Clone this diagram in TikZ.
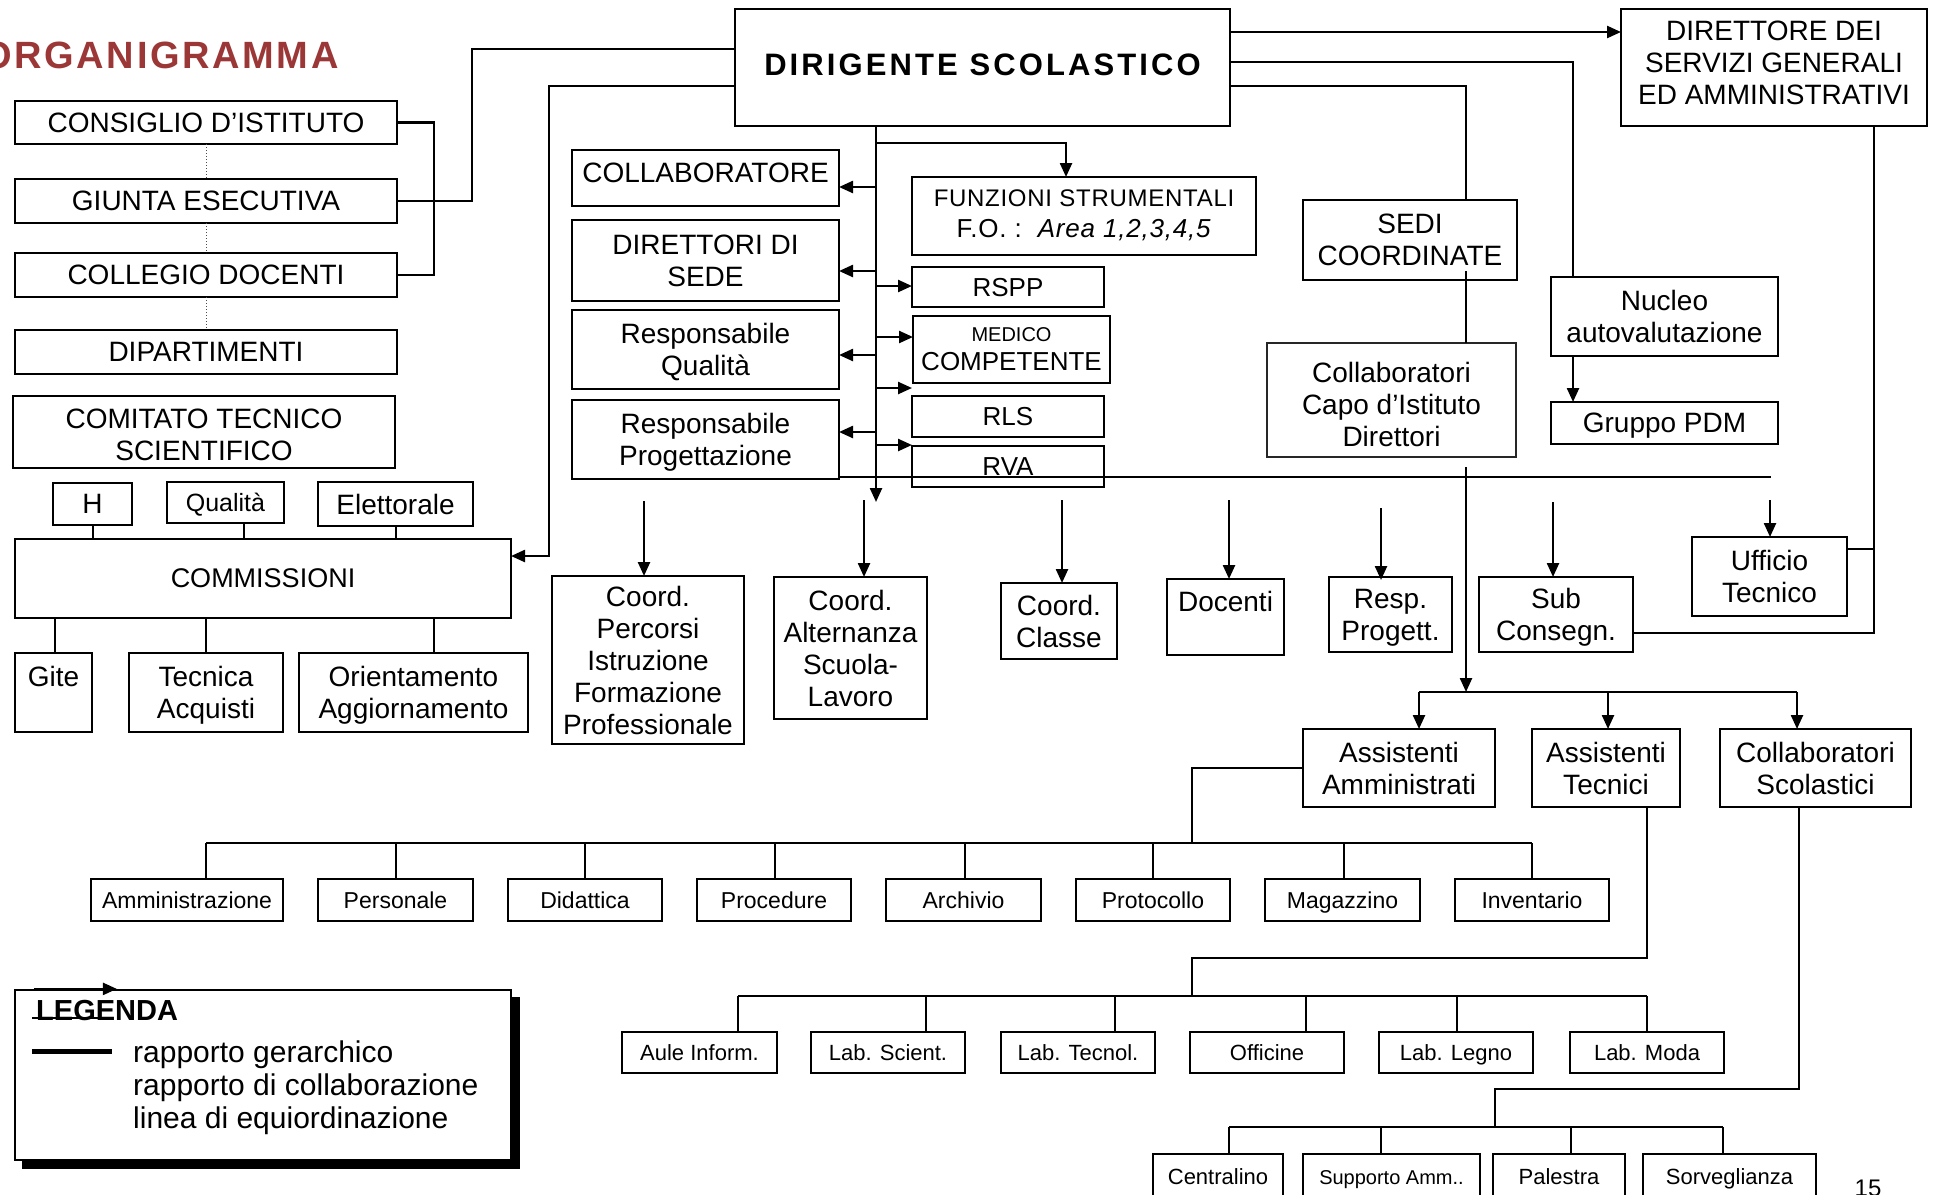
\documentclass[tikz,border=0pt]{standalone}
\usepackage{fontspec}
\setmainfont{Liberation Sans}
\usetikzlibrary{arrows.meta,calc}
\definecolor{titlered}{RGB}{155,55,55}
\begin{document}
\begin{tikzpicture}[x=1pt,y=-1pt,
  wh/.style 2 args={minimum width=#1pt, minimum height=#2pt},
  box/.style={draw, line width=2.6pt, inner sep=0pt, outer sep=0pt, align=center,
    text depth=0pt, font=\fontsize{28}{32}\selectfont},
  thinbox/.style={box, line width=1.4pt, draw=black!85},
  rowa/.style={box, font=\fontsize{23}{27}\selectfont},
  rowb/.style={box, font=\fontsize{22}{26}\selectfont},
  conn/.style={line width=2.4pt},
  thinconn/.style={line width=1.6pt},
  drop/.style={line width=2pt},
  dotl/.style={line width=1pt, dotted, black!70},
  arr/.style={-{Triangle[length=14pt,width=12pt]}},
]
\useasboundingbox (0,0) rectangle (1937,1194);

% title
\node[anchor=east, inner sep=0pt, text=titlered,
  font={\fontsize{38}{44}\selectfont\bfseries\addfontfeature{LetterSpace=7}}] (title) at (339,55.5) {ORGANIGRAMMA};

% left column
\node[box, wh={382}{43}] (ci) at (206,122.5) {CONSIGLIO D’ISTITUTO};
\node[box, wh={382}{44}] (ge) at (206,201) {GIUNTA ESECUTIVA};
\node[box, wh={382}{44}] (cd) at (206,275) {COLLEGIO DOCENTI};
\node[box, wh={382}{44}] (dip) at (206,352) {DIPARTIMENTI};
\node[box, wh={382}{72}] (cts) at (204,432) {\rule{0pt}{25pt}COMITATO TECNICO\\SCIENTIFICO};
\node[box, wh={79}{42}] (hh) at (92.5,504) {H};
\node[box, wh={117}{41}, font=\fontsize{25}{30}\selectfont] (qual) at (225.5,502.5) {Qualità};
\node[box, wh={155}{44}] (elet) at (395.5,504) {Elettorale};
\node[box, wh={496}{79}, font=\fontsize{27}{32}\selectfont] (comm) at (263,578.5) {COMMISSIONI};
\node[box, wh={77}{79}] (gite) at (53.5,692.5) {Gite\\\strut};
\node[box, wh={154}{79}] (tec) at (206,692.5) {Tecnica\\Acquisti};
\node[box, wh={229}{79}] (ori) at (413.5,692.5) {Orientamento\\Aggiornamento};

% top
\node[box, wh={495}{117}, text depth=6pt, font={\fontsize{31}{36}\selectfont\bfseries\addfontfeature{LetterSpace=10}}] (dir) at (982.5,67.5) {DIRIGENTE SCOLASTICO};
\node[box, wh={306}{117}, text depth=10pt] (dsga) at (1774,67.5) {DIRETTORE DEI\\SERVIZI GENERALI\\ED AMMINISTRATIVI};

% middle column
\node[box, wh={267}{56}, text depth=10pt] (coll) at (705.5,178) {COLLABORATORE};
\node[box, wh={267}{81}] (dsede) at (705.5,260.5) {DIRETTORI DI\\SEDE};
\node[box, wh={267}{79}] (rq) at (705.5,349.5) {Responsabile\\Qualità};
\node[box, wh={267}{79}] (rp) at (705.5,439.5) {Responsabile\\Progettazione};
\node[box, wh={344}{78}, text depth=5pt, font={\fontsize{24}{31}\selectfont\addfontfeature{LetterSpace=3}}] (fs) at (1084,216) {FUNZIONI STRUMENTALI\\{\fontsize{26}{31}\selectfont F.O. :\ \ \textit{Area 1,2,3,4,5}}};
\node[box, wh={192}{40}, font=\fontsize{26}{30}\selectfont] (rspp) at (1008,287) {RSPP};
\node[box, wh={197}{67}, font=\fontsize{26}{29}\selectfont] (med) at (1011.5,349.5) {{\fontsize{20}{24}\selectfont MEDICO}\\COMPETENTE};
\node[box, wh={192}{41}, font=\fontsize{26}{30}\selectfont] (rls) at (1008,416.5) {RLS};
\node[box, wh={192}{41}, font=\fontsize{26}{30}\selectfont] (rva) at (1008,466.5) {RVA};

% right column
\node[box, wh={214}{80}] (sedi) at (1410,240) {SEDI\\COORDINATE};
\node[thinbox, wh={249}{114}] (ccapo) at (1391.5,400) {\rule{0pt}{28pt}Collaboratori\\Capo d’Istituto\\Direttori};
\node[box, wh={227}{79}] (nucleo) at (1664.5,316.5) {Nucleo\\autovalutazione};
\node[box, wh={227}{42}] (pdm) at (1664.5,423) {Gruppo PDM};

% second level
\node[box, wh={192}{168}] (cpifp) at (648,660) {Coord.\\Percorsi\\Istruzione\\Formazione\\Professionale};
\node[box, wh={153}{142}] (casl) at (850.5,648) {Coord.\\Alternanza\\Scuola-\\Lavoro};
\node[box, wh={116}{76}] (ccl) at (1059,621) {Coord.\\Classe};
\node[box, wh={117}{76}] (doc) at (1225.5,617) {Docenti\\\strut};
\node[box, wh={123}{75}] (rprog) at (1390.5,614.5) {Resp.\\Progett.};
\node[box, wh={154}{75}] (sub) at (1556,614.5) {Sub\\Consegn.};
\node[box, wh={155}{79}] (ut) at (1769.5,576.5) {Ufficio\\Tecnico};
\node[box, wh={192}{78}] (aa) at (1399,768) {Assistenti\\Amministrati};
\node[box, wh={148}{78}] (at) at (1606,768) {Assistenti\\Tecnici};
\node[box, wh={191}{78}] (cs) at (1815.5,768) {Collaboratori\\Scolastici};

% row A
\node[rowa, wh={192}{42}] (amm) at (187,900) {Amministrazione};
\node[rowa, wh={155}{42}] (pers) at (395.5,900) {Personale};
\node[rowa, wh={154}{42}] (did) at (585,900) {Didattica};
\node[rowa, wh={154}{42}] (proc) at (774,900) {Procedure};
\node[rowa, wh={155}{42}] (arch) at (963.5,900) {Archivio};
\node[rowa, wh={154}{42}] (prot) at (1153,900) {Protocollo};
\node[rowa, wh={155}{42}] (mag) at (1342.5,900) {Magazzino};
\node[rowa, wh={154}{42}] (inv) at (1532,900) {Inventario};

% row B
\node[rowb, wh={155}{41}] (aule) at (699.5,1052.5) {Aule Inform.};
\node[rowb, wh={154}{41}] (scient) at (888,1052.5) {Lab. Scient.};
\node[rowb, wh={154}{41}] (tecnol) at (1078,1052.5) {Lab. Tecnol.};
\node[rowb, wh={154}{41}] (off) at (1267,1052.5) {Officine};
\node[rowb, wh={154}{41}] (legno) at (1456,1052.5) {Lab. Legno};
\node[rowb, wh={154}{41}] (moda) at (1647,1052.5) {Lab. Moda};

% row C
\node[rowb, wh={130}{46}] (centr) at (1218,1177) {Centralino};
\node[rowb, wh={177}{46}, font=\fontsize{20}{24}\selectfont] (supp) at (1391.5,1177) {Supporto Amm..};
\node[rowb, wh={132}{46}] (pal) at (1559,1177) {Palestra};
\node[rowb, wh={173}{46}] (sorv) at (1729.5,1177) {Sorveglianza};

% ---------- connectors ----------
\draw[conn] (ci.east) -- ++(37,0) |- (cd.east);
\draw[conn] (ge.east) -- ++(75,0) |- ($(dir.north west)+(0,40)$);
\draw[conn,arr] ($(dir.north west)+(0,77)$) -| ($(comm.north east)+(38,17)$) -- ($(comm.north east)+(0,17)$);
\draw[dotl] (ci.south) -- (ge.north);
\draw[dotl] (ge.south) -- (cd.north);
\draw[dotl] (cd.south) -- (dip.north);

\draw[drop] (hh.south) -- (hh.south |- comm.north);
\draw[drop] ($(qual.south)+(18.5,0)$) -- ($(qual.south |- comm.north)+(18.5,0)$);
\draw[drop] (elet.south) -- (elet.south |- comm.north);
\draw[drop] ($(gite.north)+(1.5,0)$) -- ($(gite.north |- comm.south)+(1.5,0)$);
\draw[drop] (tec.north) -- (tec.north |- comm.south);
\draw[drop] ($(ori.north)+(20.5,0)$) -- ($(ori.north |- comm.south)+(20.5,0)$);

% spine
\coordinate (spend) at (876,502);
\draw[conn,arr] ($(dir.south west)+(141,0)$) -- (spend);
\draw[conn,arr] (876,187) -- ($(coll.east)+(0,9)$);
\draw[conn,arr] (876,271) -- ($(dsede.east)+(0,10.5)$);
\draw[conn,arr] (876,355) -- ($(rq.east)+(0,5.5)$);
\draw[conn,arr] (876,432) -- ($(rp.east)+(0,-7.5)$);
\draw[conn,arr] (876,143) -| ($(fs.north west)+(154,0)$);
\draw[conn,arr] (876,286) -- ($(rspp.west)+(0,-1)$);
\draw[conn,arr] (876,337) -- ($(med.west)+(0,-12.5)$);
\draw[conn,arr] (876,388) -- ($(rls.north west)+(0,-8)$);
\draw[conn,arr] (876,445) -- ($(rva.north west)+(0,-1)$);

% long line
\coordinate (hlend) at (1771,477);
\draw[conn] ($(rp.south east)+(0,-2)$) -- (hlend);

% down arrows
\draw[conn,arr] ($(cpifp.north)+(-4,-75)$) -- ($(cpifp.north)+(-4,0)$);
\draw[conn,arr] ($(casl.north)+(13.5,-77)$) -- ($(casl.north)+(13.5,0)$);
\draw[conn,arr] ($(ccl.north)+(3,-83)$) -- ($(ccl.north)+(3,0)$);
\draw[conn,arr] ($(doc.north)+(3.5,-79)$) -- ($(doc.north)+(3.5,0)$);
\draw[conn,arr] ($(rprog.north)+(-9.5,-69)$) -- ($(rprog.north)+(-9.5,3)$);
\draw[conn,arr] ($(sub.north)+(-3,-75)$) -- ($(sub.north)+(-3,0)$);
\draw[conn,arr] ($(ut.north)+(0.5,-37)$) -- ($(ut.north)+(0.5,0)$);

% DSGA side
\draw[thinconn] ($(dsga.south west)+(253,0)$) |- ($(sub.east)+(0,18.5)$);
\draw[thinconn] ($(ut.east)+(0,-27.5)$) -- ++(27,0);

% right of dirigente
\draw[conn,arr] ($(dir.north east)+(0,23)$) -- ($(dsga.north west)+(0,23)$);
\draw[conn] ($(dir.north east)+(0,53)$) -| ($(nucleo.north west)+(22,0)$);
\draw[conn] ($(dir.north east)+(0,77)$) -| ($(sedi.north west)+(163,0)$);
\draw[conn] ($(sedi.south west)+(163,-9)$) -- ($(ccapo.north west)+(199,0)$);
\draw[conn,arr] ($(nucleo.south west)+(22,0)$) -- ($(pdm.north west)+(22,0)$);
\draw[conn,arr] ($(ccapo.south west)+(199,10)$) -- ($(aa.north)+(67,-37)$);

% ATA bar
\draw[conn] ($(aa.north)+(20,-37)$) -- ($(cs.north)+(-18.5,-37)$);
\draw[conn,arr] ($(aa.north)+(20,-37)$) -- ($(aa.north)+(20,0)$);
\draw[conn,arr] ($(at.north)+(2,-37)$) -- ($(at.north)+(2,0)$);
\draw[conn,arr] ($(cs.north)+(-18.5,-37)$) -- ($(cs.north)+(-18.5,0)$);

% row A
\draw[conn] (aa.west) -| ($(prot.north)+(39,-36)$);
\draw[conn] ($(amm.north)+(19,-36)$) -- ($(inv.north)+(0,-36)$);
\foreach \n/\dx in {amm/19,pers/0.5,did/0,proc/1,arch/1.5,prot/0,mag/1.5,inv/0}
  \draw[drop] ($(\n.north)+(\dx,-36)$) -- ($(\n.north)+(\dx,0)$);

% row B
\draw[conn] ($(at.south)+(41,0)$) |- ($(off.north)+(-75,-74)$) -- ($(off.north)+(-75,-36)$);
\draw[conn] ($(aule.north)+(38.5,-36)$) -- ($(moda.north)+(0,-36)$);
\foreach \n/\dx in {aule/38.5,scient/38,tecnol/37,off/39,legno/1,moda/0}
  \draw[drop] ($(\n.north)+(\dx,-36)$) -- ($(\n.north)+(\dx,0)$);

% row C
\draw[conn] ($(cs.south)+(-16.5,0)$) |- ($(pal.north)+(-64,-65)$) -- ($(pal.north)+(-64,-27)$);
\draw[conn] ($(centr.north)+(11,-27)$) -- ($(sorv.north)+(-6.5,-27)$);
\foreach \n/\dx in {centr/11,supp/-10.5,pal/12,sorv/-6.5}
  \draw[drop] ($(\n.north)+(\dx,-27)$) -- ($(\n.north)+(\dx,0)$);

% legend
\node[draw, line width=2pt, fill=black, wh={496}{170}, inner sep=0pt] (legsh) at (271,1083) {};
\node[draw, line width=2.2pt, fill=white, wh={496}{170}, inner sep=0pt] (leg) at (263,1075) {};
\draw[conn,arr] ($(leg.north west)+(20,0)$) -- ($(leg.north west)+(103,0)$);
\node[anchor=west, inner sep=0pt, font=\fontsize{29}{32}\selectfont\bfseries] (legt) at (36,1011) {LEGENDA};
\draw[line width=2pt] ($(leg.north west)+(18,29)$) -- ($(leg.north west)+(98,29)$);
\draw[line width=5pt] ($(leg.north west)+(18,63)$) -- ($(leg.north west)+(98,63)$);
\node[anchor=west, inner sep=0pt, align=left, font=\fontsize{30}{33}\selectfont] (legtxt) at (133,1088) {rapporto gerarchico\\rapporto di collaborazione\\linea di equiordinazione};

% page number
\node[anchor=north, inner sep=0pt, font=\fontsize{24}{28}\selectfont] (pg) at (1868,1180) {15};
\end{tikzpicture}
\end{document}
